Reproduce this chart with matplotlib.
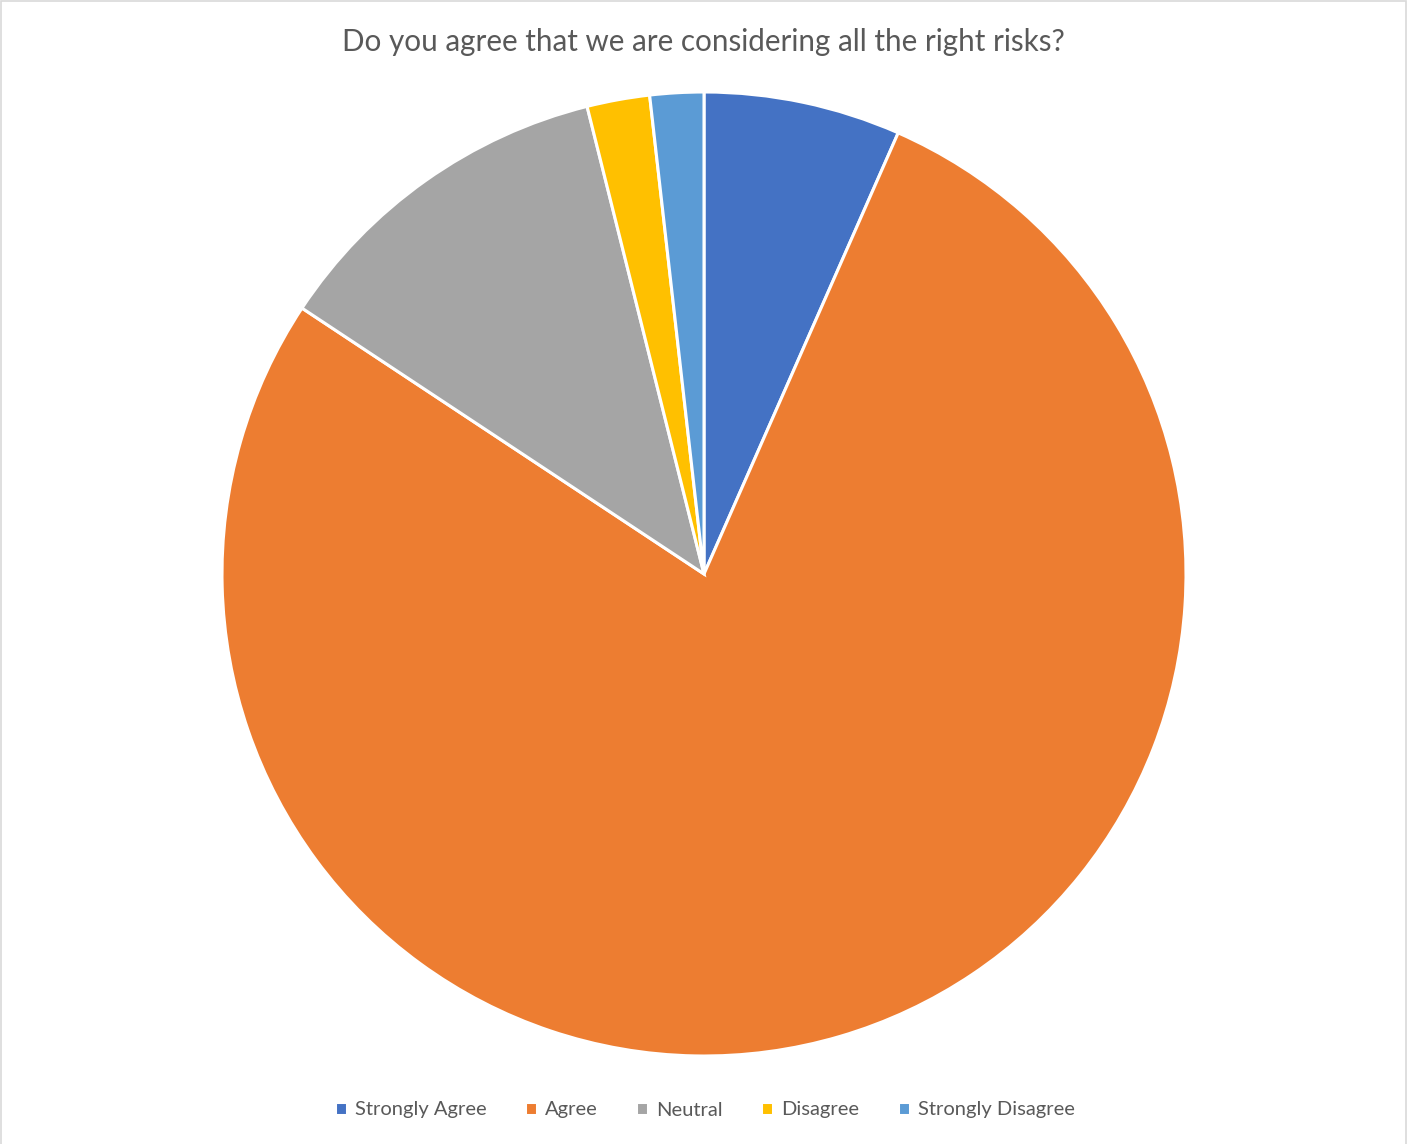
import matplotlib.pyplot as plt
from matplotlib.patches import Rectangle

labels = ['Strongly Agree', 'Agree', 'Neutral', 'Disagree', 'Strongly Disagree']
values = [6.6, 77.7, 11.8, 2.1, 1.8]
colors = ['#4472C4', '#ED7D31', '#A5A5A5', '#FFC000', '#5B9BD5']

plt.rcParams['font.family'] = ['Lato', 'DejaVu Sans']

W, H = 1407, 1144
fig = plt.figure(figsize=(W / 100, H / 100), dpi=100)

# pie area: center (704, 574), radius 482 px
cx, cy, r = 704, 574, 482
ax = fig.add_axes([(cx - r) / W, (H - cy - r) / H, 2 * r / W, 2 * r / H])
wedges, _ = ax.pie(values, colors=colors, startangle=90, counterclock=False,
                   radius=1, wedgeprops=dict(edgecolor='white', linewidth=2.2))
ax.set_xlim(-1, 1)
ax.set_ylim(-1, 1)
ax.set_aspect('equal')
ax.axis('off')

fig.text(703 / W, 1 - 42 / H, 'Do you agree that we are considering all the right risks?',
         ha='center', va='center', fontsize=21.3, color='#595959')

fig.legend(wedges, labels, loc='center', bbox_to_anchor=(705 / W, 1 - 1110 / H),
           ncol=5, frameon=False, fontsize=14.5, labelcolor='#595959',
           handlelength=0.6, handleheight=0.6, handletextpad=0.4, columnspacing=1.9)

# light grey chart border (bottom edge falls outside the image)
fig.patches.append(Rectangle((0.0005, -0.01), 0.999, 1.0095, transform=fig.transFigure,
                             fill=False, edgecolor='#D9D9D9', linewidth=1.2))

fig.savefig('out.png', dpi=100, facecolor='white')
